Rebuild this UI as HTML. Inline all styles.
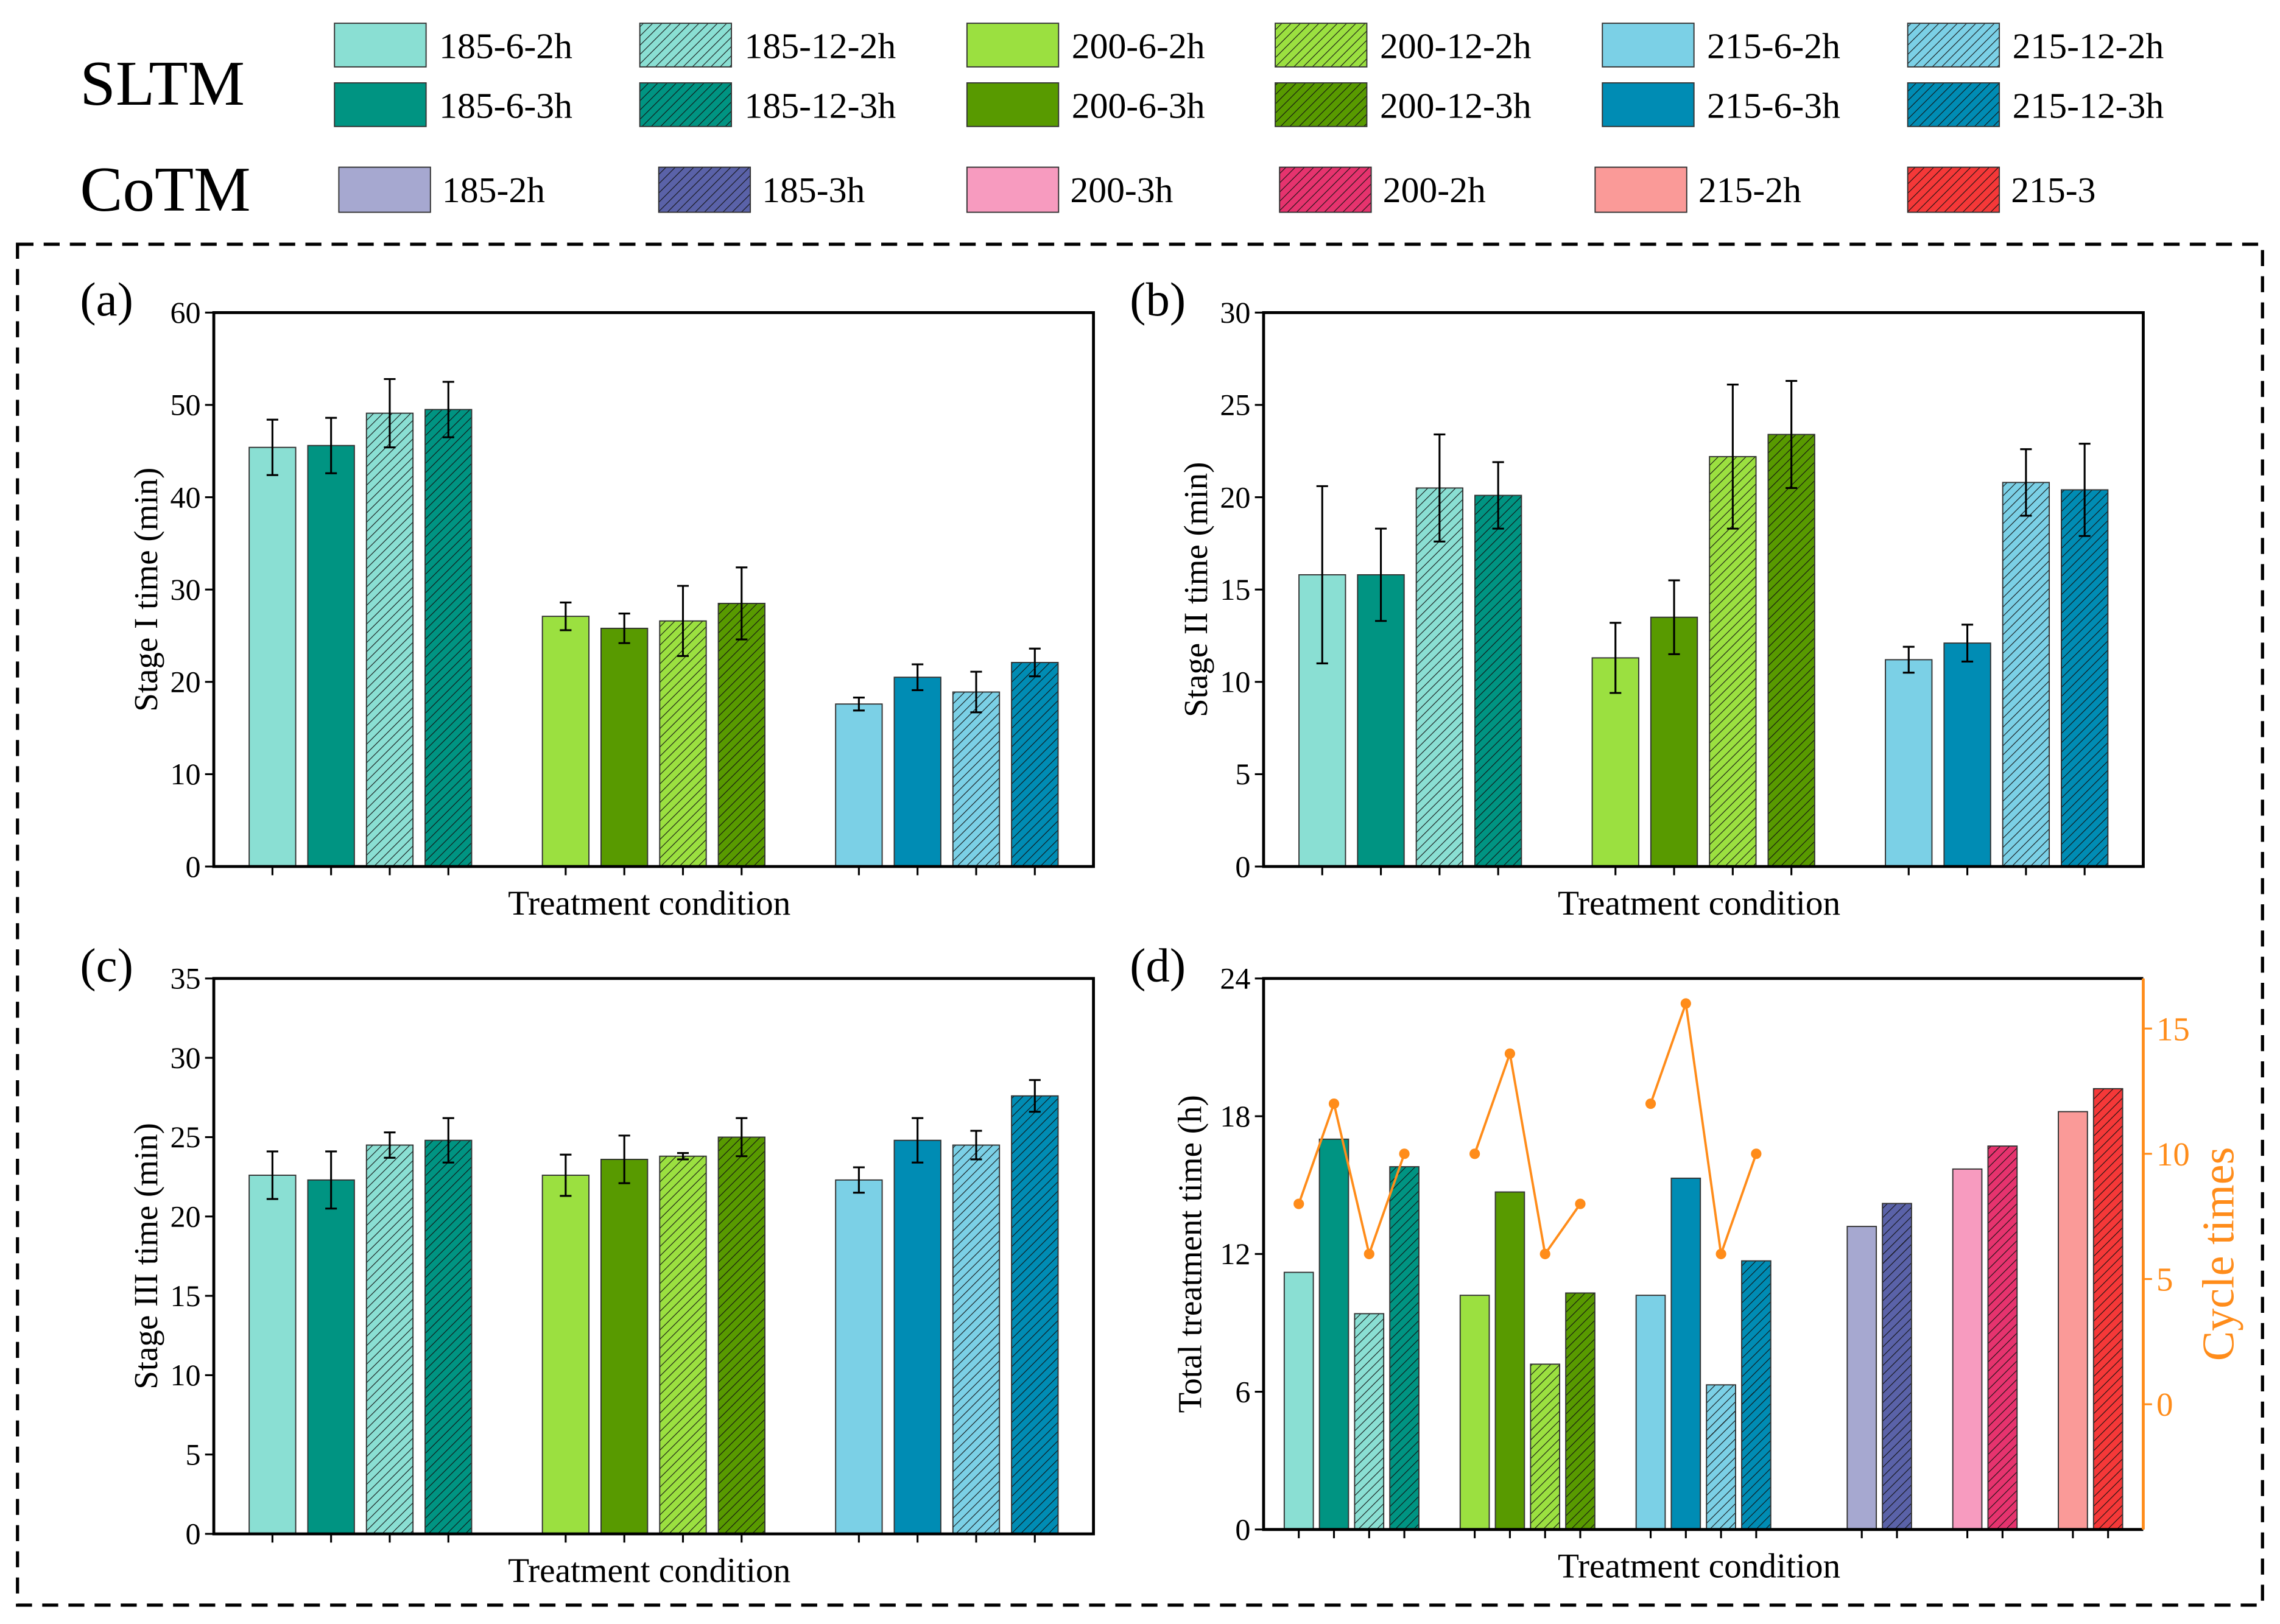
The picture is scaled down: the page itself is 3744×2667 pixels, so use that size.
<!DOCTYPE html>
<html><head><meta charset="utf-8"><style>
html,body{margin:0;padding:0;background:#fff}
svg{display:block}
svg text{font-family:"Liberation Serif","DejaVu Serif",serif !important;fill:#000}
</style></head><body>
<svg id="fig" width="3744" height="2667" viewBox="0 0 1568 1117" xmlns="http://www.w3.org/2000/svg" font-family="Liberation Serif, serif">
<defs id="defs"></defs>
<rect x="12" y="168" width="1544" height="936" fill="none" stroke="#000" stroke-width="2.2" stroke-dasharray="11,7"/>
<g id="legend">
<text x="55" y="72" font-size="44" font-family="Liberation Serif, serif">SLTM</text>
<text x="55" y="145" font-size="44" font-family="Liberation Serif, serif">CoTM</text>
</g>
</svg>
<script>
const svgNS="http://www.w3.org/2000/svg";
const fig=document.getElementById('fig');
const defs=document.getElementById('defs');
// ---- data ----
const sltmNames=["185-6-2h","185-6-3h","185-12-2h","185-12-3h","200-6-2h","200-6-3h","200-12-2h","200-12-3h","215-6-2h","215-6-3h","215-12-2h","215-12-3h"];
const sltmColors=["#8ADFD3","#009482","#8ADFD3","#009482","#9BE040","#589A00","#9BE040","#589A00","#7BD0E6","#008CB4","#7BD0E6","#008CB4"];
const sltmHatch=[0,0,1,1,0,0,1,1,0,0,1,1];
const stage1=[45.4,45.6,49.1,49.5,27.1,25.8,26.6,28.5,17.6,20.5,18.9,22.1];
const stage1Err=[3.0,3.0,3.7,3.0,1.5,1.6,3.8,3.9,0.7,1.4,2.2,1.5];
const stage2=[15.8,15.8,20.5,20.1,11.3,13.5,22.2,23.4,11.2,12.1,20.8,20.4];
const stage2Err=[4.8,2.5,2.9,1.8,1.9,2.0,3.9,2.9,0.7,1.0,1.8,2.5];
const stage3=[22.6,22.3,24.5,24.8,22.6,23.6,23.8,25.0,22.3,24.8,24.5,27.6];
const stage3Err=[1.5,1.8,0.8,1.4,1.3,1.5,0.2,1.2,0.8,1.4,0.9,1.0];
const cotmNames=["185-2h","185-3h","200-3h","200-2h","215-2h","215-3"];
const cotmColors=["#A6A8D0","#5A62A8","#F79BBF","#E6336E","#FA9A98","#F53838"];
const cotmHatch=[0,1,0,1,0,1];
const totalSltm=[11.2,17.0,9.4,15.8,10.2,14.7,7.2,10.3,10.2,15.3,6.3,11.7];
const totalCotm=[13.2,14.2,15.7,16.7,18.2,19.2];
const cycles=[8,12,6,10,10,14,6,8,12,16,6,10];
const ticks1=[0,10,20,30,40,50,60];
const ticks2=[0,5,10,15,20,25,30];
const ticks3=[0,5,10,15,20,25,30,35];
const ticks4=[0,6,12,18,24];
const ticksCyc=[0,5,10,15];
const sltmSlots=[1,2,3,4,6,7,8,9,11,12,13,14];
const cotmSlots=[17,18,20,21,23,24];

const FF="Liberation Serif, serif";
function el(tag,attrs,parent){const e=document.createElementNS(svgNS,tag);for(const k in attrs)e.setAttribute(k,attrs[k]);if(tag==='text')e.setAttribute('font-family',FF);(parent||fig).appendChild(e);return e;}
let pid=0;
function hatchFill(color){pid++;const p=el('pattern',{id:'h'+pid,patternUnits:'userSpaceOnUse',width:4.5,height:4.5,patternTransform:'rotate(45)'},defs);
el('rect',{x:0,y:0,width:4.5,height:4.5,fill:color},p);el('line',{x1:0,y1:0,x2:0,y2:4.5,stroke:'#111','stroke-width':0.9},p);return 'url(#h'+pid+')';}
function fillFor(c,h){return h?hatchFill(c):c;}

// legend
const legCols=[230,440,665,877,1102,1312];
for(let i=0;i<12;i++){
  const col=Math.floor(i/4)*2+Math.floor((i%4)/2), row=i%2;
  const x=legCols[col], y=row?57:16;
  const r=el('rect',{x:x,y:y,width:63,height:30,fill:fillFor(sltmColors[i],sltmHatch[i]),stroke:'#333','stroke-width':0.8});
  
  
  const t=el('text',{x:x+72,y:y+24,'font-size':25});t.textContent=sltmNames[i];
  
  
}
const cotmLeg=[233,453,665,880,1097,1312];
for(let i=0;i<6;i++){
  const x=cotmLeg[i],y=115;
  const r=el('rect',{x:x,y:y,width:63,height:31,fill:fillFor(cotmColors[i],cotmHatch[i]),stroke:'#333','stroke-width':0.8});
  
  
  const t=el('text',{x:x+71,y:y+24,'font-size':25});t.textContent=cotmNames[i];
  
  
}

function panel(o){
  const g=el('g',{});
  
  
  const L=o.x0,R=o.x0+605,T=o.y0,B=o.y1,slot=605/o.nslots;
  const y=v=>B-(v-o.min)/(o.max-o.min)*(B-T);
  const xs=s=>L+slot*s;
  o.vals.forEach((v,i)=>{
    const cx=xs(o.slots[i]);
    const r=el('rect',{x:cx-o.bw/2,y:y(v),width:o.bw,height:B-y(v),fill:fillFor(o.colors[i],o.hatch[i]),stroke:'#333','stroke-width':0.8},g);
    
    
    if(o.err){const e=o.err[i];const ep=el('path',{d:`M${cx},${y(v+e)}V${y(v-e)}M${cx-4},${y(v+e)}H${cx+4}M${cx-4},${y(v-e)}H${cx+4}`,stroke:'#000','stroke-width':1.3,fill:'none'},g);
      
      }
    el('line',{x1:cx,y1:B,x2:cx,y2:B+6,stroke:'#000','stroke-width':1.3},g);
  });
  const fr=el('path',{d:o.rightOrange?`M${R},${T}H${L}V${B}H${R}`:`M${L},${T}H${R}V${B}H${L}Z`,fill:'none',stroke:'#000','stroke-width':2},g);
  
  
  o.ticks.forEach(t=>{const yy=y(t);el('line',{x1:L-6,y1:yy,x2:L,y2:yy,stroke:'#000','stroke-width':1.3},g);
    const tx=el('text',{x:L-9,y:yy+7,'font-size':21,'text-anchor':'end'},g);tx.textContent=t;
    
    });
  const yt=el('text',{x:0,y:0,'font-size':23,'text-anchor':'middle',transform:`translate(${o.ytx},${(T+B)/2}) rotate(-90)`},g);yt.textContent=o.ytitle;
  
  
  const xt=el('text',{x:(L+R)/2-3,y:B+33,'font-size':24,'text-anchor':'middle'},g);xt.textContent='Treatment condition';
  
  
  const pl=el('text',{x:o.lx,y:T+2,'font-size':33},g);pl.textContent='('+o.id+')';
  
  
  return {g,xs,L,R,T,B};
}
panel({id:'a',x0:147,y0:215,y1:596,min:0,max:60,nslots:15,slots:sltmSlots,vals:stage1,err:stage1Err,colors:sltmColors,hatch:sltmHatch,names:sltmNames,bw:32,ticks:ticks1,ytitle:'Stage I time (min)',ytx:108,lx:55});
panel({id:'b',x0:869,y0:215,y1:596,min:0,max:30,nslots:15,slots:sltmSlots,vals:stage2,err:stage2Err,colors:sltmColors,hatch:sltmHatch,names:sltmNames,bw:32,ticks:ticks2,ytitle:'Stage II time (min)',ytx:830,lx:777});
panel({id:'c',x0:147,y0:673,y1:1055,min:0,max:35,nslots:15,slots:sltmSlots,vals:stage3,err:stage3Err,colors:sltmColors,hatch:sltmHatch,names:sltmNames,bw:32,ticks:ticks3,ytitle:'Stage III time (min)',ytx:108,lx:55});
const d=panel({id:'d',x0:869,y0:673,y1:1052,min:0,max:24,nslots:25,slots:sltmSlots.concat(cotmSlots),vals:totalSltm.concat(totalCotm),err:null,colors:sltmColors.concat(cotmColors),hatch:sltmHatch.concat(cotmHatch),names:sltmNames.concat(cotmNames),bw:20,ticks:ticks4,ytitle:'Total treatment time (h)',ytx:826,lx:777,rightOrange:true});
const OR='#FF8C1A',cmin=-5,cmax=17;
const yc=v=>d.B-(v-cmin)/(cmax-cmin)*(d.B-d.T);
const ra=el('line',{x1:d.R,y1:d.T,x2:d.R,y2:d.B,stroke:OR,'stroke-width':2});


ticksCyc.forEach(t=>{el('line',{x1:d.R,y1:yc(t),x2:d.R+6,y2:yc(t),stroke:OR,'stroke-width':1.3});
  const tx=el('text',{x:d.R+9,y:yc(t)+8,'font-size':23,style:'fill:'+OR});tx.textContent=t;
  
  });
const ct=el('text',{x:0,y:0,'font-size':31,'text-anchor':'middle',style:'fill:'+OR,transform:`translate(1536,${(d.T+d.B)/2}) rotate(-90)`});ct.textContent='Cycle times';


for(let gi=0;gi<3;gi++){
  const pts=[];for(let k=0;k<4;k++){const i=gi*4+k;pts.push(d.xs(sltmSlots[i])+','+yc(cycles[i]));}
  const pl=el('polyline',{points:pts.join(' '),fill:'none',stroke:OR,'stroke-width':1.6});
  
  
  for(let k=0;k<4;k++){const i=gi*4+k;const c=el('circle',{cx:d.xs(sltmSlots[i]),cy:yc(cycles[i]),r:3.6,fill:OR});
    
    }
}
</script>
</body></html>
